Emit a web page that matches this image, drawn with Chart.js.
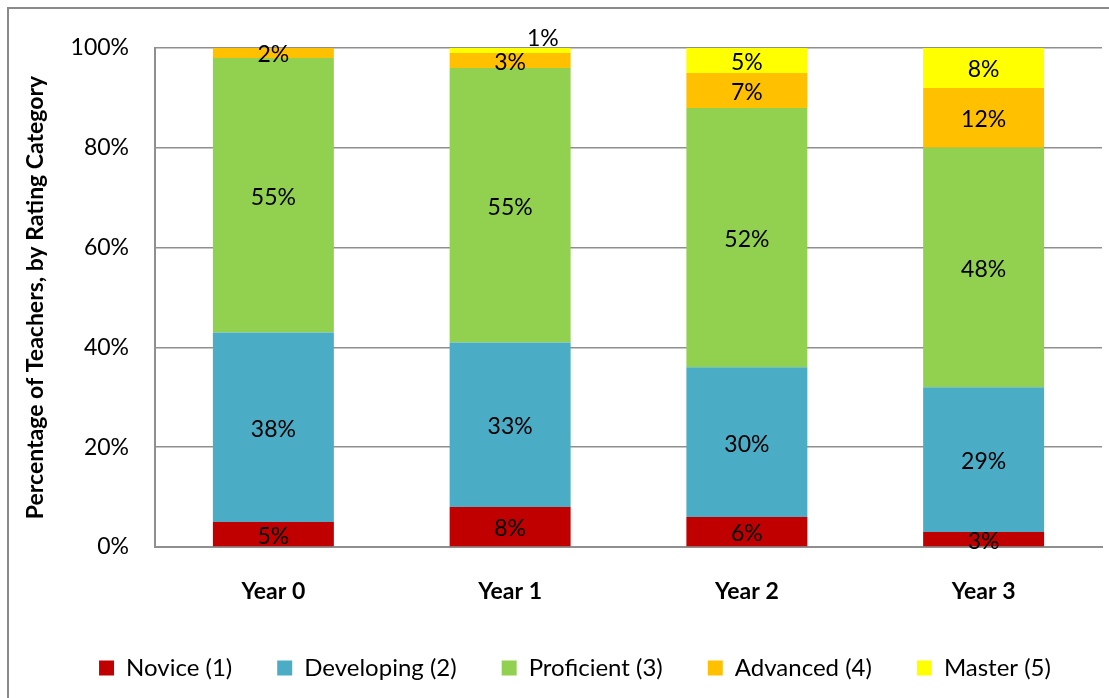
<!DOCTYPE html>
<html>
<head>
<meta charset="utf-8">
<script src="https://cdn.jsdelivr.net/npm/chart.js@4"></script>
<style>
  html, body { margin: 0; padding: 0; background: #fff; }
  #wrap { width: 1109px; height: 698px; position: relative; }
</style>
</head>
<body>
<div id="wrap"><canvas id="c" width="1109" height="698"></canvas></div>
<script>
const categories = ["Year 0", "Year 1", "Year 2", "Year 3"];
const seriesNames = ["Novice (1)", "Developing (2)", "Proficient (3)", "Advanced (4)", "Master (5)"];
const novice     = [5, 8, 6, 3];
const developing = [38, 33, 30, 29];
const proficient = [55, 55, 52, 48];
const advanced   = [2, 3, 7, 12];
const master     = [0, 1, 5, 8];
const yTicks = [0, 20, 40, 60, 80, 100];

const colors = ["#C00000", "#4BACC6", "#92D050", "#FFC000", "#FFFF00"];
const values = [novice, developing, proficient, advanced, master];

const FONT = "Lato, 'Open Sans', sans-serif";

const frame = {
  id: 'frame',
  beforeDraw(chart) {
    const ctx = chart.ctx;
    ctx.save();
    ctx.fillStyle = '#fff';
    ctx.fillRect(0, 0, chart.width, chart.height);
    ctx.strokeStyle = '#8a8a8a';
    ctx.lineWidth = 2;
    ctx.strokeRect(8, 8, chart.width + 50, chart.height + 50);
    ctx.restore();
  }
};

const legendShift = {
  id: 'legendShift',
  afterLayout(chart) {
    if (chart.legend) { chart.legend.left += 48; }
  }
};

const labelsPlugin = {
  id: 'segLabels',
  afterDatasetsDraw(chart) {
    const ctx = chart.ctx;
    ctx.save();
    ctx.font = "23px " + FONT;
    ctx.fillStyle = '#000';
    ctx.textAlign = 'center';
    ctx.textBaseline = 'middle';
    chart.data.datasets.forEach((ds, di) => {
      const meta = chart.getDatasetMeta(di);
      meta.data.forEach((bar, i) => {
        const v = ds.data[i];
        if (!v) return;
        let x = bar.x, y = (bar.y + bar.base) / 2 + 2;
        if (v < 2) { x = bar.x + bar.width * 0.27; y = bar.y - 9; }
        ctx.fillText(v + '%', x, y);
      });
    });
    ctx.restore();
  }
};

new Chart(document.getElementById('c'), {
  type: 'bar',
  data: {
    labels: categories,
    datasets: seriesNames.map((n, k) => ({
      label: n,
      data: values[k],
      backgroundColor: colors[k],
      borderWidth: 0,
      barPercentage: 0.511,
      categoryPercentage: 1.0
    }))
  },
  options: {
    responsive: false,
    animation: false,
    devicePixelRatio: 1,
    layout: { padding: { left: 0, right: 7, top: 48, bottom: 8 } },
    plugins: {
      legend: {
        position: 'bottom',
        labels: {
          font: { family: FONT, size: 24 },
          color: '#000',
          boxWidth: 15,
          boxHeight: 15,
          padding: 45
        }
      },
      tooltip: { enabled: false }
    },
    scales: {
      x: {
        stacked: true,
        grid: { display: false, drawTicks: false },
        border: { display: true, color: '#8f8f8f', width: 2 },
        ticks: { font: { family: FONT, size: 23, weight: 'bold' }, color: '#000', padding: 31 },
        afterFit(s) { s.height = 64; }
      },
      y: {
        stacked: true,
        min: 0, max: 100,
        afterBuildTicks(s) { s.ticks = yTicks.map(v => ({ value: v })); },
        grid: { color: '#8f8f8f', lineWidth: 1.5, drawTicks: false },
        border: { display: true, color: '#8f8f8f', width: 2 },
        ticks: { font: { family: FONT, size: 23 }, color: '#000', padding: 26, callback: v => v + '%' },
        title: {
          display: true,
          text: 'Percentage of Teachers, by Rating Category',
          font: { family: FONT, size: 23, weight: 'bold' },
          color: '#000',
          padding: { top: 22, bottom: 0 }
        },
        afterFit(s) { s.width = 155; }
      }
    }
  },
  plugins: [frame, legendShift, labelsPlugin]
});
</script>
</body>
</html>
